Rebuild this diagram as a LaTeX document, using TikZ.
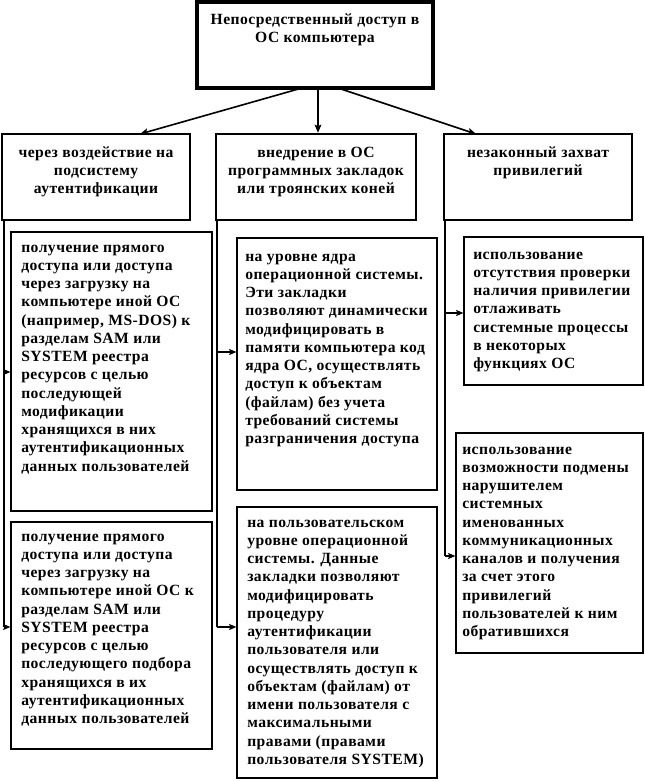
\documentclass[tikz,border=0pt]{standalone}
\usepackage{fontspec}
\setmainfont{Liberation Serif}[LetterSpace=3]
\usetikzlibrary{arrows.meta,fit}
\begin{document}
\begin{tikzpicture}[x=0.75pt,y=-0.75pt,
  every node/.style={font=\fontsize{11.7}{13.7}\selectfont\bfseries},
  topbox/.style={draw, line width=2.6pt, inner sep=0pt},
  headbox/.style={draw, line width=1.9pt, inner sep=0pt},
  subbox/.style={draw, line width=0.8pt, inner sep=0pt},
  txt/.style={anchor=north west, inner sep=0pt, align=left},
  ctxt/.style={anchor=north, inner sep=0pt, align=center},
  conn/.style={line width=1.5pt},
  arr/.style={line width=1.5pt, -{Stealth[length=5.5pt,width=4.5pt,inset=1pt]}},
  darr/.style={line width=1.2pt, -{Stealth[length=6pt,width=5pt,inset=1pt]}}
]
\useasboundingbox (0,0) rectangle (645,781);
\fill[white] (0,0) rectangle (645,781);

% boxes
\node[topbox, fit={(197,2) (433,88)}] (top) {};
\node[headbox, fit={(2,134) (190,220)}] (hL) {};
\node[headbox, fit={(216,134) (416,220)}] (hM) {};
\node[headbox, fit={(444,134) (632,220)}] (hR) {};
\node[subbox, fit={(11,232) (212,511)}] (L1) {};
\node[subbox, fit={(11,522) (212,749)}] (L2) {};
\node[subbox, fit={(237,238) (437,490)}] (M1) {};
\node[subbox, fit={(237,507) (437,778)}] (M2) {};
\node[subbox, fit={(464,237) (643,385)}] (R1) {};
\node[subbox, fit={(456,433) (643,653)}] (R2) {};

% texts
\node[ctxt] (ttop) at (315,11) {\strut Непосредственный доступ в\\ОС компьютера};
\node[ctxt] (thL) at (96,144) {\strut через воздействие на\\подсистему\\аутентификации};
\node[ctxt] (thM) at (316,144) {\strut внедрение в ОС\\программных закладок\\или троянских коней};
\node[ctxt] (thR) at (538,144) {\strut незаконный захват\\привилегий};

\node[txt] (tL1) at (21,239) {\strut получение прямого\\доступа или доступа\\через загрузку на\\компьютере иной ОС\\(например, MS-DOS) к\\разделам SAM или\\SYSTEM реестра\\ресурсов с целью\\последующей\\модификации\\хранящихся в них\\аутентификационных\\данных пользователей};
\node[txt] (tL2) at (21,528) {\strut получение прямого\\доступа или доступа\\через загрузку на\\компьютере иной ОС к\\разделам SAM или\\SYSTEM реестра\\ресурсов с целью\\последующего подбора\\хранящихся в их\\аутентификационных\\данных пользователей};
\node[txt] (tM1) at (245,248) {\strut на уровне ядра\\операционной системы.\\Эти закладки\\позволяют динамически\\модифицировать в\\памяти компьютера код\\ядра ОС, осуществлять\\доступ к объектам\\(файлам) без учета\\требований системы\\разграничения доступа};
\node[txt] (tM2) at (247,514) {\strut на пользовательском\\уровне операционной\\системы. Данные\\закладки позволяют\\модифицировать\\процедуру\\аутентификации\\пользователя или\\осуществлять доступ к\\объектам (файлам) от\\имени пользователя с\\максимальными\\правами (правами\\пользователя SYSTEM)};
\node[txt] (tR1) at (473,246) {\strut использование\\отсутствия проверки\\наличия привилегии\\отлаживать\\системные процессы\\в некоторых\\функциях ОС};
\node[txt] (tR2) at (462,441) {\strut использование\\возможности подмены\\нарушителем\\системных\\именованных\\коммуникационных\\каналов и получения\\за счет этого\\привилегий\\пользователей к ним\\обратившихся};

% top arrows
\coordinate (ta) at (302,88);
\coordinate (tb) at (318,88);
\coordinate (tc) at (338,88);
\draw[darr] (ta) -- (140,134);
\draw[darr] (tb) -- (tb |- hM.north);
\draw[darr] (tc) -- (476,134);

% left column
\coordinate (lt) at (4,220);
\coordinate (l1) at (4,372);
\coordinate (lb) at (4,627);
\draw[conn] (lt) -- (lb);
\draw[arr] (l1) -- (l1 -| L1.west);
\draw[arr] (lb) -- (lb -| L2.west);

% middle column
\coordinate (mt) at (217,220);
\coordinate (m1) at (217,352);
\coordinate (mb) at (217,627);
\draw[conn] (mt) -- (mb);
\draw[arr] (m1) -- (m1 -| M1.west);
\draw[arr] (mb) -- (mb -| M2.west);

% right column
\coordinate (rt) at (445,220);
\coordinate (r1) at (445,313);
\coordinate (rb) at (445,556);
\draw[conn] (rt) -- (rb);
\draw[arr] (r1) -- (r1 -| R1.west);
\draw[arr] (rb) -- (rb -| R2.west);
\end{tikzpicture}
\end{document}
